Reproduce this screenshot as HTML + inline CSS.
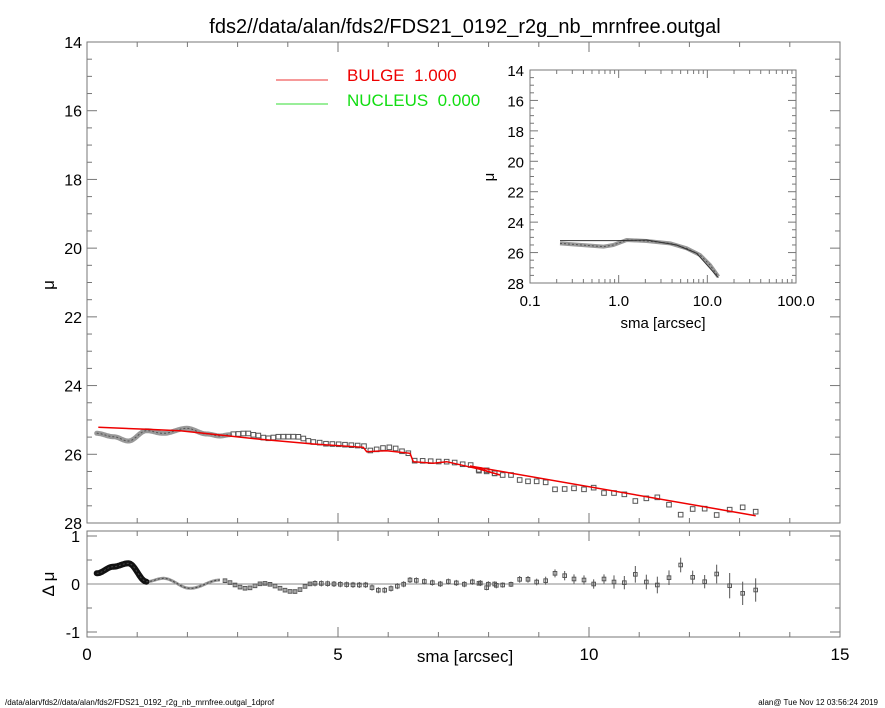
<!DOCTYPE html>
<html><head><meta charset="utf-8"><style>
html,body{margin:0;padding:0;background:#fff;}
svg{display:block;font-family:"Liberation Sans",sans-serif;}
</style></head><body>
<svg id="s" width="885" height="708" xmlns="http://www.w3.org/2000/svg">
<rect width="885" height="708" fill="#fff"/>
<text x="465" y="33" font-size="20" text-anchor="middle">fds2//data/alan/fds2/FDS21_0192_r2g_nb_mrnfree.outgal</text>
<g id="ax" stroke="#777" stroke-width="1" fill="none"></g>
<g id="lab" font-size="16" fill="#000"></g>
<line x1="276" y1="80" x2="328" y2="80" stroke="#e33" stroke-width="1"/>
<line x1="276" y1="104" x2="328" y2="104" stroke="#3d3" stroke-width="1"/>
<text x="347" y="81" font-size="17" fill="#e00">BULGE&#160;&#160;1.000</text>
<text x="347" y="106" font-size="17" fill="#1d1">NUCLEUS&#160;&#160;0.000</text>
<g id="data"></g>
<text x="465" y="662" font-size="17" text-anchor="middle">sma [arcsec]</text>
<text x="663" y="328" font-size="15" text-anchor="middle">sma [arcsec]</text>
<text transform="translate(54,285) rotate(-90)" font-size="17" text-anchor="middle">μ</text>
<text transform="translate(494,177) rotate(-90)" font-size="15" text-anchor="middle">μ</text>
<text transform="translate(54,584) rotate(-90)" font-size="17" text-anchor="middle">Δ μ</text>
<text x="5" y="705" font-size="8">/data/alan/fds2//data/alan/fds2/FDS21_0192_r2g_nb_mrnfree.outgal_1dprof</text>
<text x="878" y="705" font-size="8" text-anchor="end">alan@  Tue Nov 12 03:56:24 2019</text>
</svg>
<script>
const NS="http://www.w3.org/2000/svg";
function el(p,t,a,txt){const e=document.createElementNS(NS,t);for(const k in a)e.setAttribute(k,a[k]);if(txt!==undefined)e.textContent=txt;document.getElementById(p).appendChild(e);return e;}
const L=87,R=840,T=42,B=523,RT=531,RB=637;
el('ax','rect',{x:L,y:T,width:R-L,height:B-T});
el('ax','rect',{x:L,y:RT,width:R-L,height:RB-RT});
const xs=v=>L+(R-L)*v/15, ys=v=>T+(B-T)*(v-14)/14, rs=v=>584-48*v;
for(let v=0;v<=15;v++){const x=xs(v),len=v%5==0?10:5;
 el('ax','line',{x1:x,y1:B,x2:x,y2:B-len});el('ax','line',{x1:x,y1:T,x2:x,y2:T+len});
 el('ax','line',{x1:x,y1:RB,x2:x,y2:RB-len});el('ax','line',{x1:x,y1:RT,x2:x,y2:RT+len});}
for(let v=14;v<=28.001;v+=0.5){const y=ys(v),len=(Math.round(v*2)%4==0)?10:5;
 el('ax','line',{x1:L,y1:y,x2:L+len,y2:y});el('ax','line',{x1:R,y1:y,x2:R-len,y2:y});}
for(let v=14;v<=28;v+=2)el('lab','text',{x:L-5,y:ys(v)+6,'text-anchor':'end'},v);
for(let v=-1;v<=1;v+=0.5){const y=rs(v),len=(v%1==0)?10:5;el('ax','line',{x1:L,y1:y,x2:L+len,y2:y});el('ax','line',{x1:R,y1:y,x2:R-len,y2:y});}
[[1,'1'],[0,'0'],[-1,'-1']].forEach(a=>el('lab','text',{x:L-7,y:rs(a[0])+6,'text-anchor':'end'},a[1]));
[0,5,10,15].forEach(v=>el('lab','text',{x:xs(v),y:660,'text-anchor':'middle','font-size':17},v));
el('ax','line',{x1:L,y1:584,x2:R,y2:584,stroke:'#888'});
const IL=530,IR=796,IT=70,IB=283;
el('ax','rect',{x:IL,y:IT,width:IR-IL,height:IB-IT});
const iy=v=>IT+(IB-IT)*(v-14)/14, ix=v=>IL+(IR-IL)*(Math.log10(v)+1)/3;
for(let d=-1;d<2;d++)for(let m=1;m<10;m++){const x=ix(m*Math.pow(10,d)),len=m==1?8:4;
 el('ax','line',{x1:x,y1:IB,x2:x,y2:IB-len});el('ax','line',{x1:x,y1:IT,x2:x,y2:IT+len});}
for(let v=14;v<=28.001;v+=0.5){const y=iy(v),len=(Math.round(v*2)%4==0)?8:4;
 el('ax','line',{x1:IL,y1:y,x2:IL+len,y2:y});el('ax','line',{x1:IR,y1:y,x2:IR-len,y2:y});}
for(let v=14;v<=28;v+=2)el('lab','text',{x:IL-6,y:iy(v)+6,'text-anchor':'end','font-size':15},v);
[[0.1,'0.1'],[1,'1.0'],[10,'10.0'],[100,'100.0']].forEach(a=>el('lab','text',{x:ix(a[0]),y:306,'text-anchor':'middle','font-size':15},a[1]));
function interp(pts,x){for(let i=0;i<pts.length-1;i++){if(x>=pts[i][0]&&x<=pts[i+1][0]){let t=(x-pts[i][0])/(pts[i+1][0]-pts[i][0]);t=(1-Math.cos(Math.PI*t))/2;return pts[i][1]+t*(pts[i+1][1]-pts[i][1]);}}return pts[pts.length-1][1];}
const z1=p=>[80+p[0]/3,410+p[1]/3], z2=p=>[470+p[0]/3,410+p[1]/3], z3=p=>[470+p[0]/3,55+p[1]/3];
const full=[[50,70],[100,80],[145,93],[200,62],[250,70],[320,55],[380,72],[420,78],[470,72],[500,70],[530,76],[560,85],[600,80],[650,80],[700,96],[750,102],[850,107],[860,122],[930,112],[990,130],[1000,152],[1100,155],[1170,165],[1200,180],[1245,190]];
const dense=full.filter(p=>p[0]<=450).concat([[450,74]]).map(z1);
let d='';
for(let x=dense[0][0];x<=dense[dense.length-1][0];x+=0.7)d+=(d?'L':'M')+x.toFixed(1)+','+interp(dense,x).toFixed(1);
el('data','path',{d:d,stroke:'#999',fill:'none','stroke-width':5,'stroke-linecap':'round'});
el('data','path',{d:d,stroke:'#555',fill:'none','stroke-width':1,'stroke-dasharray':'2 2'});
const sq1=[];for(let zx=460;zx<=1250;){sq1.push(z1([zx,interp(full,zx)]));zx+=zx<700?15:(zx<1000?19:24);}
const sq2=[[27,182],[50,181],[74,190],[98,195],[123,195],[149,210],[174,214],[200,214],[227,217],[255,238],[284,237],[312,235],[342,238],[371,233],[402,249],[432,249],[463,253],[496,273],[529,265],[562,262],[597,284],[632,314],[668,297],[704,296],[740,315],[779,299],[818,292],[857,305]].map(z2);
sq1.concat(sq2).forEach(p=>el('data','rect',{x:p[0]-2.3,y:p[1]-2.3,width:4.6,height:4.6,fill:'none',stroke:'#555','stroke-width':1}));
const red=[[55,52],[200,58],[300,62],[420,75],[540,88],[700,102],[850,112],[860,125],[920,122],[990,130],[1000,155],[1060,160],[1100,155],[1200,178],[1260,195]].map(z1).concat([[0,168],[857,317]].map(z2));
el('data','path',{d:'M'+red.map(p=>p[0].toFixed(1)+','+p[1].toFixed(1)).join('L'),stroke:'#e00',fill:'none','stroke-width':1.5});
// residuals
const rfull=[[50,490],[100,470],[145,460],[200,515],[250,505],[330,535],[420,510],[500,535],[550,520],[640,545],[700,520],[850,525],[900,540],[990,515],[1260,522]];
const rd=rfull.filter(p=>p[0]<=420).map(z1);
let d2='';for(let x=rd[0][0];x<=rd[rd.length-1][0];x+=0.7)d2+=(d2?'L':'M')+x.toFixed(1)+','+interp(rd,x).toFixed(1);
el('data','path',{d:d2,stroke:'#999',fill:'none','stroke-width':3});
const r2=rfull.filter(p=>p[0]<=200).map(z1);
let d3='';for(let x=r2[0][0];x<=r2[r2.length-1][0];x+=0.7)d3+=(d3?'L':'M')+x.toFixed(1)+','+interp(r2,x).toFixed(1);
el('data','path',{d:d3,stroke:'#111',fill:'none','stroke-width':6,'stroke-linecap':'round'});
el('data','path',{d:d2,stroke:'#444',fill:'none','stroke-width':1,'stroke-dasharray':'2 2'});
const rs1=[];for(let zx=435;zx<=1250;){rs1.push([...z1([zx,interp(rfull,zx)+(zx>850?((zx*7)%11-5):0)]),zx<700?1.5:3]);zx+=zx<700?15:(zx<1000?19:24);}
const rs2=[[27,520,5],[50,533,8],[74,522,8],[98,525,8],[123,523,8],[149,508,10],[174,508,10],[200,516,10],[227,512,12],[255,490,12],[284,497,14],[312,507,14],[342,510,14],[371,522,14],[402,507,14],[432,516,20],[463,518,20],[496,493,25],[529,516,22],[562,525,25],[597,503,22],[632,465,22],[668,502,20],[704,515,20],[740,492,28],[779,527,38],[818,550,35],[857,540,35]].map(p=>{const q=z2(p);return [q[0],q[1],p[2]/3];});
rs1.concat(rs2).forEach(p=>{el('data','line',{x1:p[0],y1:p[1]-p[2],x2:p[0],y2:p[1]+p[2],stroke:'#555'});el('data','rect',{x:p[0]-1.8,y:p[1]-1.8,width:3.6,height:3.6,fill:'none',stroke:'#555'});});
// inset
const ig=[[270,565],[400,575],[430,570],[470,555],[530,558],[600,565],[650,580],[690,600],[720,630],[745,665]].map(z3);
el('data','path',{d:'M'+ig.map(p=>p.join(',')).join('L'),stroke:'#999',fill:'none','stroke-width':4,'stroke-linejoin':'round'});
el('data','path',{d:'M'+ig.map(p=>p.join(',')).join('L'),stroke:'#555',fill:'none','stroke-width':1,'stroke-dasharray':'2 2'});
const im=[[270,557],[440,557],[530,555],[620,570],[680,595],[745,668]].map(z3);
el('data','path',{d:'M'+im.map(p=>p.join(',')).join('L'),stroke:'#333',fill:'none','stroke-width':1});
</script>
</body></html>
